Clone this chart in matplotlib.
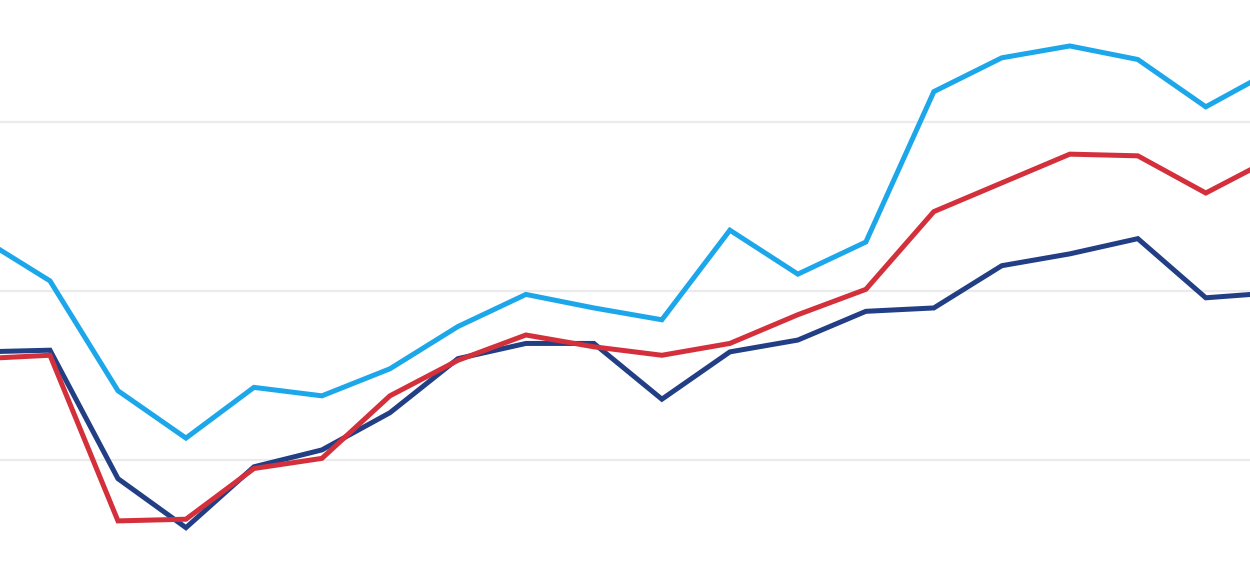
import numpy as np
import matplotlib
matplotlib.use("Agg")
from matplotlib import pyplot as plt

# valores (escala arbitraria, rejilla en 20/30/40)
periodos = list(range(20))
serie_navy = [26.4, 26.5, 18.9, 16.0, 19.6, 20.6, 22.8, 26.0, 26.9, 26.9, 23.6, 26.4,
              27.1, 28.8, 29.0, 31.5, 32.2, 33.1, 29.6, 29.9]
serie_roja = [26.0, 26.2, 16.4, 16.5, 19.5, 20.1, 23.8, 25.9, 27.4, 26.7, 26.2, 26.9,
              28.6, 30.1, 34.7, 36.4, 38.1, 38.0, 35.8, 37.9]
serie_azul = [33.1, 30.6, 24.1, 21.3, 24.3, 23.8, 25.4, 27.9, 29.8, 29.0, 28.3, 33.6,
              31.0, 32.9, 41.8, 43.8, 44.5, 43.7, 40.9, 43.1]
rejilla = [10, 20, 30, 40, 50]

fig = plt.figure(figsize=(12.5, 5.64), dpi=100)
ax = fig.add_axes([0, 0, 1, 1])

for yv in rejilla:
    ax.axhline(yv, color="#ebebeb", lw=1.6, zorder=0)

ax.plot(periodos, serie_navy, color="#223f85", lw=3.6, solid_joinstyle="miter", zorder=2)
ax.plot(periodos, serie_roja, color="#d3303c", lw=3.6, solid_joinstyle="miter", zorder=3)
ax.plot(periodos, serie_azul, color="#1ca7ea", lw=3.6, solid_joinstyle="miter", zorder=4)

ax.set_xlim(0.265, 18.65)
ax.set_ylim(13.85, 47.22)
ax.axis("off")

fig.savefig("out.png", dpi=100)
